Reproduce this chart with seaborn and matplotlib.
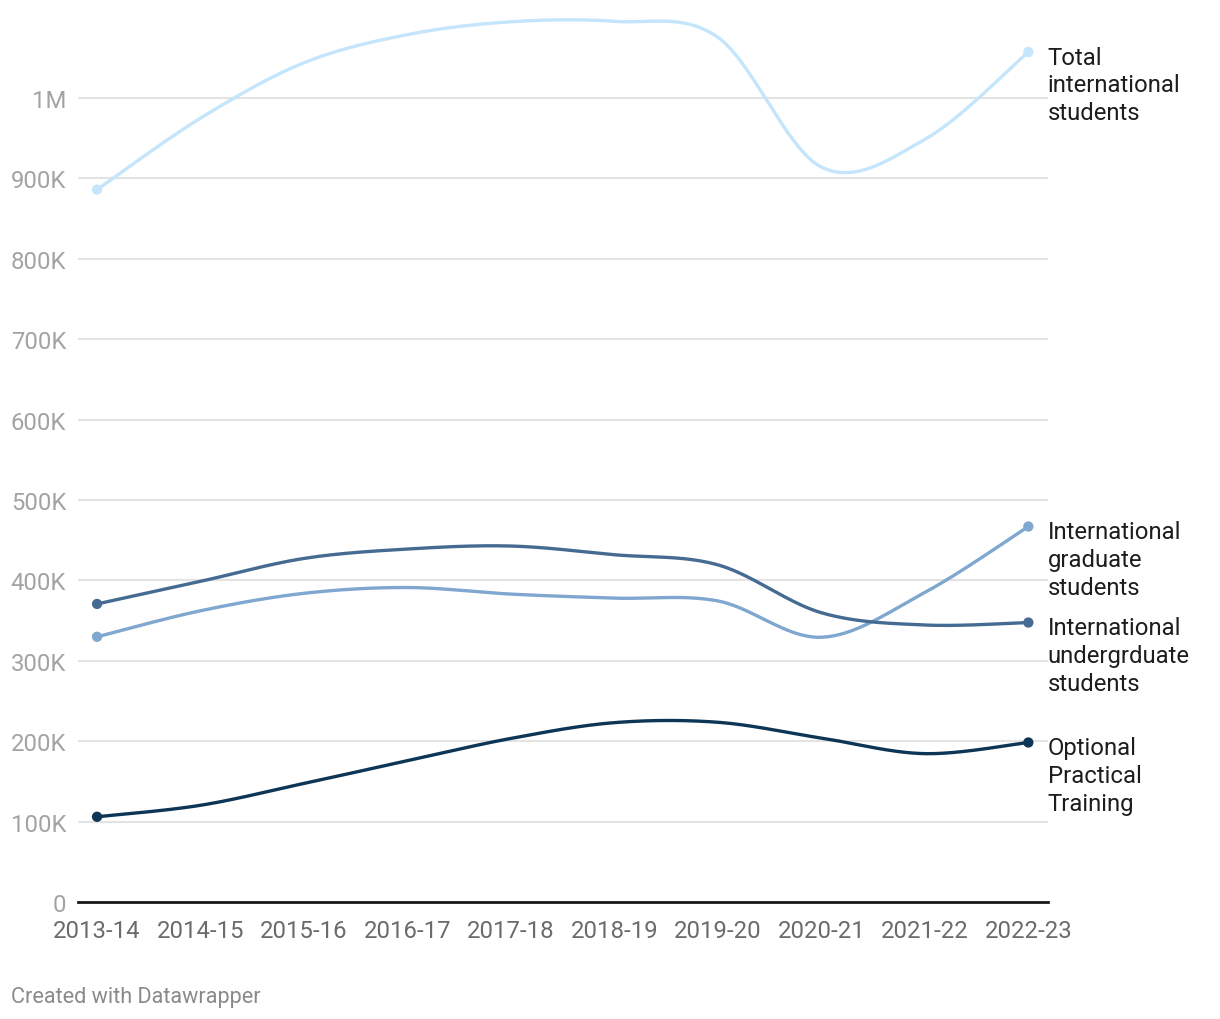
import numpy as np
import pandas as pd
import matplotlib
matplotlib.use("Agg")
import matplotlib.pyplot as plt
import seaborn as sns

years = ["2013-14", "2014-15", "2015-16", "2016-17", "2017-18",
         "2018-19", "2019-20", "2020-21", "2021-22", "2022-23"]

total = [886052, 974926, 1043839, 1078822, 1094792, 1095299, 1075496, 914095, 948519, 1057188]
graduate = [329854, 362228, 383935, 391124, 382953, 377943, 374435, 329272, 385097, 467027]
undergrad = [370724, 398824, 427313, 439019, 442746, 431930, 419321, 359787, 344532, 347602]
opt = [105997, 120287, 147498, 175695, 203462, 223085, 223539, 203885, 184516, 198400]

series_names = ["Total\ninternational\nstudents",
                "International\ngraduate\nstudents",
                "International\nundergrduate\nstudents",
                "Optional\nPractical\nTraining"]
series_values = [total, graduate, undergrad, opt]
colors = ["#c4e5fb", "#7fa7cf", "#466b92", "#0c3556"]

y_ticks = [0, 100000, 200000, 300000, 400000, 500000, 600000, 700000, 800000, 900000, 1000000]
y_labels = ["0", "100K", "200K", "300K", "400K", "500K", "600K", "700K", "800K", "900K", "1M"]


def catmull_rom(x, y, n=40):
    # smooth curve through the points, like the Datawrapper line
    x = np.asarray(x, float)
    y = np.asarray(y, float)
    px = np.concatenate([[x[0]], x, [x[-1]]])
    py = np.concatenate([[y[0]], y, [y[-1]]])
    out_x, out_y = [], []
    for i in range(1, len(px) - 2):
        t = np.linspace(0, 1, n, endpoint=False)
        for arr, out in ((px, out_x), (py, out_y)):
            p0, p1, p2, p3 = arr[i - 1], arr[i], arr[i + 1], arr[i + 2]
            out.append(0.5 * (2 * p1 + (-p0 + p2) * t
                              + (2 * p0 - 5 * p1 + 4 * p2 - p3) * t ** 2
                              + (-p0 + 3 * p1 - 3 * p2 + p3) * t ** 3))
    out_x.append([x[-1]])
    out_y.append([y[-1]])
    return np.concatenate(out_x), np.concatenate(out_y)


sns.set_theme(style="white")
plt.rcParams["font.family"] = ["Roboto", "DejaVu Sans"]

fig = plt.figure(figsize=(12.2, 10.2), dpi=100)
ax = fig.add_axes([78 / 1220, 117 / 1020, (1048 - 78) / 1220, (903 - 18.6) / 1020])

xpos = np.arange(len(years))
for name, vals, col in zip(series_names, series_values, colors):
    cx, cy = catmull_rom(xpos, vals)
    sns.lineplot(x=cx, y=cy, color=col, linewidth=2.4, sort=False, ax=ax, zorder=3)
    sns.scatterplot(x=[xpos[0], xpos[-1]], y=[vals[0], vals[-1]], color=col,
                    s=55, edgecolor="none", ax=ax, zorder=4)
    ax.annotate(name, xy=(xpos[-1], vals[-1]), xytext=(14, 4.5), textcoords="offset points",
                ha="left", va="top", fontsize=17.2, color="#1d1d1d", linespacing=1.26,
                annotation_clip=False)

ax.set_xlim(-0.184, 9.19)
ax.set_ylim(0, 1100000)
ax.set_yticks(y_ticks)
ax.set_yticklabels(y_labels)
ax.set_xticks(xpos)
ax.set_xticklabels(years)
ax.tick_params(axis="y", length=0, pad=8.5, labelsize=17.2, labelcolor="#a3a3a3")
ax.tick_params(axis="x", length=0, pad=12, labelsize=17.2, labelcolor="#6b6b6b")
ax.grid(axis="y", color="#e3e3e3", linewidth=1.5)
ax.grid(axis="x", visible=False)
for side in ["top", "right", "left"]:
    ax.spines[side].set_visible(False)
ax.spines["bottom"].set_color("#1a1a1a")
ax.spines["bottom"].set_linewidth(2)
ax.set_xlabel("")
ax.set_ylabel("")

fig.text(11 / 1220, 1 - 998 / 1020, "Created with Datawrapper", fontsize=15.6,
         color="#8a8a8a", ha="left", va="center")

fig.savefig("out.png", dpi=100, facecolor="white")
